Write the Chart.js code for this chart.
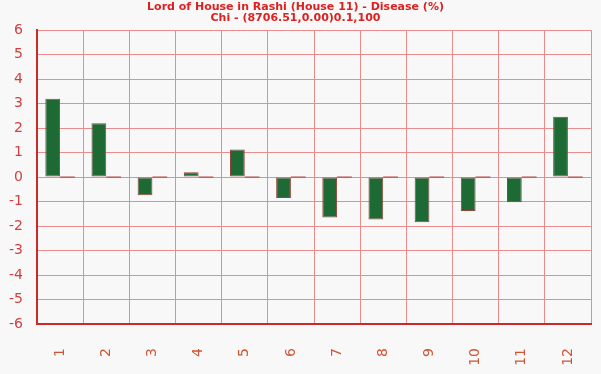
<!DOCTYPE html>
<html><head><meta charset="utf-8">
<script src="https://cdn.jsdelivr.net/npm/chart.js@4.4.1/dist/chart.umd.min.js"></script>
<style>html,body{margin:0;padding:0;background:#f8f8f8}#wrap{width:601px;height:374px}</style>
</head><body><div id="wrap"><canvas id="c" width="601" height="374"></canvas></div>
<script>
const categories = ["1","2","3","4","5","6","7","8","9","10","11","12"];
const diseaseValues = [3.2, 2.2, -0.74, 0.2, 1.12, -0.86, -1.65, -1.73, -1.85, -1.39, -1.03, 2.46];
const secondValues = [0,0,0,0,0,0,0,0,0,0,0,0];
const yTicks = [-6,-5,-4,-3,-2,-1,0,1,2,3,4,5,6];
const titleLines = ["Lord of House in Rashi (House 11) - Disease (%)", "Chi - (8706.51,0.00)0.1,100"];

const bg = {id:'bg', beforeDraw(c){const x=c.ctx;x.save();x.fillStyle='#f8f8f8';x.fillRect(0,0,c.width,c.height);x.restore();}};
new Chart(document.getElementById('c'), {
  type:'bar',
  data:{labels:categories, datasets:[
    {data:diseaseValues, backgroundColor:'#1d6a34', borderColor:'#93433a', borderWidth:1, borderSkipped:false},
    {data:secondValues, backgroundColor:'#b8322e', borderColor:'#b8322e', borderWidth:0, minBarLength:1}
  ]},
  options:{
    responsive:false, animation:false, devicePixelRatio:1,
    categoryPercentage:0.64, barPercentage:1,
    layout:{padding:{left:0,right:10,top:1,bottom:0}},
    plugins:{legend:{display:false}, tooltip:{enabled:false},
      title:{display:true, text:titleLines, color:'#dd2020', font:{family:'DejaVu Sans', size:11, weight:'bold', lineHeight:1.05}, padding:{top:0,bottom:6}}},
    scales:{
      x:{grid:{color:'#ea8c8c', offset:true, drawTicks:false}, border:{color:'#cc2a2a', width:2},
         ticks:{color:'#d05535', font:{family:'DejaVu Sans', size:14}, minRotation:90, maxRotation:90, padding:24},
         afterFit(s){s.height=50; s.paddingRight=0; s.paddingLeft=0;}},
      y:{min:-6, max:6, grid:{color:'#ea8c8c', drawTicks:false}, border:{color:'#cc2a2a', width:2},
         afterBuildTicks(s){s.ticks=yTicks.map(v=>({value:v}));},
         ticks:{color:'#d04040', font:{family:'DejaVu Sans', size:14}, padding:14, stepSize:1},
         afterFit(s){s.width=37;}}
    }
  },
  plugins:[bg]
});
</script></body></html>
